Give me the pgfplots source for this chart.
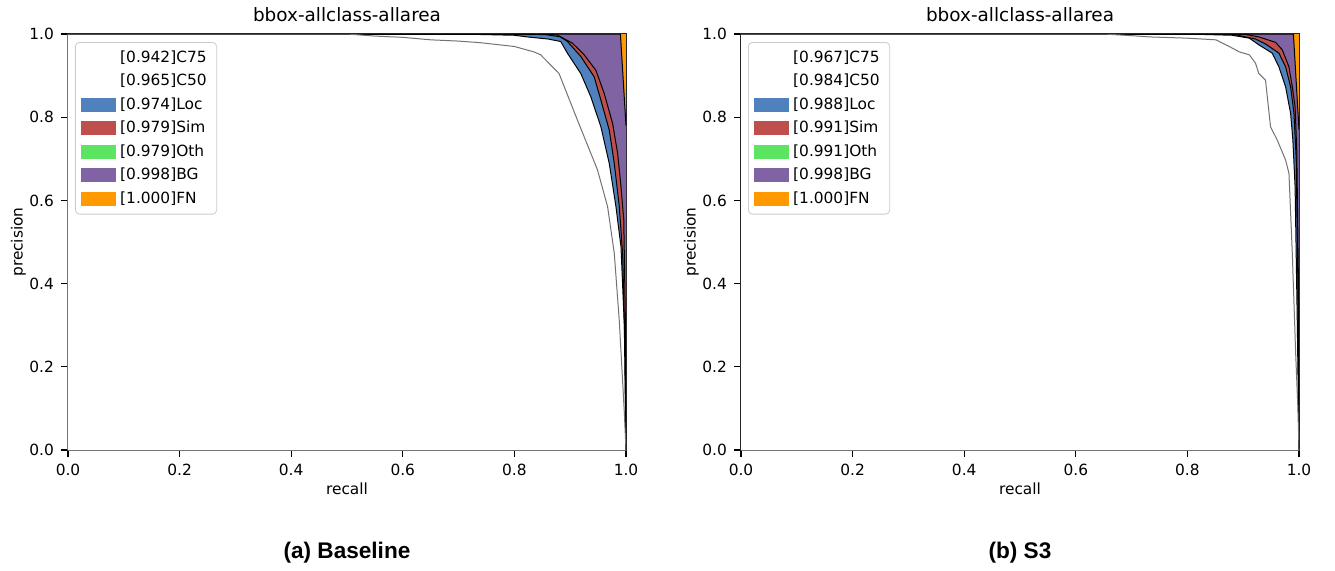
\documentclass[border=0pt]{standalone}
\usepackage{fontspec}
\setmainfont{DejaVu Sans}
\newfontfamily\capfont{Liberation Sans}
\usepackage{pgfplots}
\usepackage{pgfplotstable}
\pgfplotsset{compat=1.18}

\definecolor{locblue}{rgb}{0.31,0.51,0.74}
\definecolor{simred}{rgb}{0.75,0.31,0.30}
\definecolor{othgreen}{rgb}{0.36,0.90,0.38}
\definecolor{bgpurple}{rgb}{0.50,0.39,0.64}
\definecolor{fnorange}{rgb}{1,0.6,0}

% baseline curves (recall, precision)
\pgfplotstableread{
r p
0 1
1 1
}\fnAll
\pgfplotstableread{
r p
0 1
0.99 1
1 0.78
}\aBG
\pgfplotstableread{
r p
0 1
0.85 1
0.883 0.993
0.904 0.978
0.925 0.950
0.946 0.913
0.961 0.857
0.976 0.785
0.985 0.713
0.991 0.633
0.996 0.553
0.999 0.30
1 0
}\aSim
\pgfplotstableread{
r p
0 1
0.80 1
0.877 0.998
0.895 0.982
0.919 0.946
0.943 0.897
0.955 0.841
0.970 0.769
0.979 0.689
0.988 0.585
0.994 0.47
0.998 0.25
1 0
}\aLoc
\pgfplotstableread{
r p
0 1
0.70 1
0.80 0.997
0.823 0.993
0.86 0.988
0.883 0.982
0.895 0.954
0.919 0.905
0.937 0.849
0.955 0.777
0.970 0.689
0.982 0.585
0.991 0.489
0.997 0.30
1 0
}\aCfifty
\pgfplotstableread{
r p
0 1
0.50 1
0.55 0.995
0.60 0.992
0.65 0.986
0.70 0.983
0.74 0.979
0.80 0.970
0.835 0.957
0.847 0.950
0.88 0.905
0.913 0.793
0.949 0.673
0.967 0.585
0.979 0.473
0.988 0.31
0.997 0.09
1 0
}\aCsev

% S3 curves
\pgfplotstableread{
r p
0 1
0.99 1
1 0.77
}\bBG
\pgfplotstableread{
r p
0 1
0.90 1
0.928 0.993
0.958 0.980
0.970 0.962
0.982 0.921
0.988 0.873
0.993 0.825
0.996 0.72
0.999 0.4
1 0
}\bSim
\pgfplotstableread{
r p
0 1
0.88 1
0.922 0.988
0.940 0.976
0.964 0.954
0.976 0.921
0.985 0.873
0.991 0.809
0.995 0.70
0.998 0.40
1 0
}\bLoc
\pgfplotstableread{
r p
0 1
0.80 1
0.88 0.997
0.911 0.990
0.928 0.974
0.952 0.954
0.964 0.921
0.976 0.873
0.985 0.809
0.989 0.745
0.993 0.633
0.997 0.30
1 0
}\bCfifty
\pgfplotstableread{
r p
0 1
0.65 1
0.70 0.996
0.732 0.993
0.80 0.990
0.851 0.986
0.875 0.970
0.893 0.957
0.911 0.950
0.922 0.930
0.928 0.905
0.940 0.889
0.949 0.777
0.961 0.745
0.976 0.697
0.982 0.665
0.988 0.473
0.994 0.233
0.998 0.10
1 0
}\bCsev

\pgfplotsset{
  every axis title/.style={at={(0.5,1)}, above, yshift=2.5pt,
    font=\fontsize{9.2}{11}\selectfont},
  prplot/.style={
    scale only axis, width=279pt, height=208pt,
    xmin=0, xmax=1, ymin=0, ymax=1,
    xtick={0,0.2,0.4,0.6,0.8,1}, ytick={0,0.2,0.4,0.6,0.8,1},
    xtick pos=bottom, ytick pos=left,
    tick align=outside, major tick length=3.5pt,
    tick style={black, line width=0.6pt},
    axis line style={black!85, line width=0.7pt},
    xticklabel style={/pgf/number format/.cd, fixed, fixed zerofill, precision=1},
    yticklabel style={/pgf/number format/.cd, fixed, fixed zerofill, precision=1},
    /pgf/number format/assume math mode=true,
    tick label style={font=\fontsize{7.7}{9}\selectfont},
    label style={font=\fontsize{7.7}{9}\selectfont},
    xlabel style={yshift=3.5pt},
    ylabel style={yshift=-5pt},
    title={bbox-allclass-allarea},
    xlabel={recall}, ylabel={precision},
    legend cell align=left,
    legend style={at={(0,1)}, anchor=north west, xshift=3.5pt, yshift=-4pt,
      draw=black!20, rounded corners=2pt,
      font=\fontsize{7.7}{9}\selectfont, row sep=0.4pt},
  },
  band/.style={draw=none, fill=#1, forget plot},
  edge/.style={#1, line width=0.5pt, forget plot},
  sq/.style={legend image code/.code={\fill[#1, sharp corners] (0pt,-3.3pt) rectangle (17pt,3.3pt);}},
}

\begin{document}
\begin{tikzpicture}
\useasboundingbox (-34pt,-60pt) rectangle (633.5pt,225pt);

\begin{axis}[prplot, at={(0pt,0pt)}, anchor=south west]
\addlegendimage{sq=white}\addlegendentry{[0.942]C75}
\addlegendimage{sq=white}\addlegendentry{[0.965]C50}
\addlegendimage{sq=locblue}\addlegendentry{[0.974]Loc}
\addlegendimage{sq=simred}\addlegendentry{[0.979]Sim}
\addlegendimage{sq=othgreen}\addlegendentry{[0.979]Oth}
\addlegendimage{sq=bgpurple}\addlegendentry{[0.998]BG}
\addlegendimage{sq=fnorange}\addlegendentry{[1.000]FN}
\addplot[band=fnorange] table {\fnAll} \closedcycle;
\addplot[band=bgpurple] table {\aBG} \closedcycle;
\addplot[band=othgreen] table {\aSim} \closedcycle;
\addplot[band=simred] table {\aSim} \closedcycle;
\addplot[band=locblue] table {\aLoc} \closedcycle;
\addplot[band=white] table {\aCfifty} \closedcycle;
\addplot[band=white] table {\aCsev} \closedcycle;
\addplot[edge=black] table {\aBG};
\addplot[edge=black] table {\aSim};
\addplot[edge=black] table {\aLoc};
\addplot[edge=black] table {\aCfifty};
\addplot[edge=black!55] table {\aCsev};
\coordinate (capA) at (rel axis cs:0.5,0);
\end{axis}

\begin{axis}[prplot, at={(336.5pt,0pt)}, anchor=south west]
\addlegendimage{sq=white}\addlegendentry{[0.967]C75}
\addlegendimage{sq=white}\addlegendentry{[0.984]C50}
\addlegendimage{sq=locblue}\addlegendentry{[0.988]Loc}
\addlegendimage{sq=simred}\addlegendentry{[0.991]Sim}
\addlegendimage{sq=othgreen}\addlegendentry{[0.991]Oth}
\addlegendimage{sq=bgpurple}\addlegendentry{[0.998]BG}
\addlegendimage{sq=fnorange}\addlegendentry{[1.000]FN}
\addplot[band=fnorange] table {\fnAll} \closedcycle;
\addplot[band=bgpurple] table {\bBG} \closedcycle;
\addplot[band=othgreen] table {\bSim} \closedcycle;
\addplot[band=simred] table {\bSim} \closedcycle;
\addplot[band=locblue] table {\bLoc} \closedcycle;
\addplot[band=white] table {\bCfifty} \closedcycle;
\addplot[band=white] table {\bCsev} \closedcycle;
\addplot[edge=black] table {\bBG};
\addplot[edge=black] table {\bSim};
\addplot[edge=black] table {\bLoc};
\addplot[edge=black] table {\bCfifty};
\addplot[edge=black!55] table {\bCsev};
\coordinate (capB) at (rel axis cs:0.5,0);
\end{axis}

\node[font=\capfont\bfseries\fontsize{11.3}{13}\selectfont] at ([yshift=-51.5pt]capA) {(a) Baseline};
\node[font=\capfont\bfseries\fontsize{11.3}{13}\selectfont] at ([yshift=-51.5pt]capB) {(b) S3};
\end{tikzpicture}
\end{document}
